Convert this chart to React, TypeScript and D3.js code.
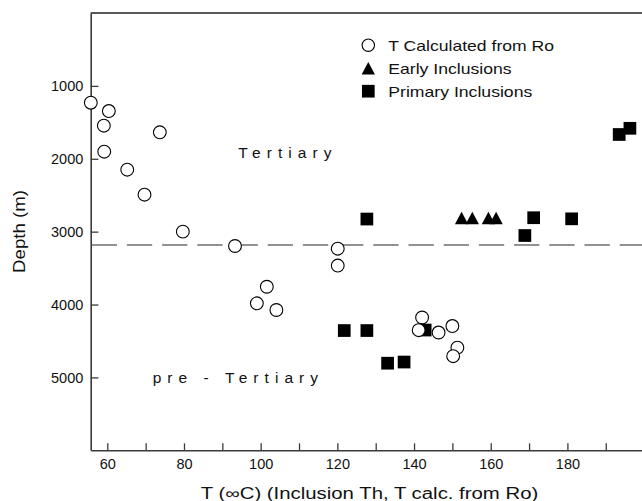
import React, { useEffect, useRef } from "react";
import * as d3 from "d3";

// Temperature calculated from vitrinite reflectance (Ro)
const roTemps = [55.7, 60.4, 59.1, 59.2, 73.7, 65.2, 69.7, 79.7, 93.3, 120.1, 120.1, 101.6, 99.0, 104.1, 142.1, 141.2, 146.4, 150.0, 151.3, 150.2];
const roDepths = [1231, 1345, 1546, 1903, 1637, 2150, 2493, 3000, 3197, 3234, 3465, 3756, 3983, 4075, 4178, 4352, 4384, 4295, 4592, 4709];

// Early fluid inclusions (homogenisation temperature)
const earlyTemps = [152.4, 155.2, 159.4, 161.4];
const earlyDepths = [2813, 2813, 2813, 2813];

// Primary fluid inclusions (homogenisation temperature)
const primaryTemps = [121.8, 127.7, 133.1, 137.4, 142.9, 127.7, 171.2, 168.9, 181.1, 193.5, 196.3];
const primaryDepths = [4357, 4357, 4805, 4789, 4350, 2827, 2809, 3053, 2824, 1667, 1582];

// Tertiary / pre-Tertiary boundary
const boundaryDepth = 3183;

const depthTicks = [1000, 2000, 3000, 4000, 5000];
const tempTicks = [60, 70, 80, 90, 100, 110, 120, 130, 140, 150, 160, 170, 180, 190];
const tempDomain = [55.67, 200];
const depthDomain = [0, 6000];

const legendLabels = ["T Calculated from Ro", "Early Inclusions", "Primary Inclusions"];
const zoneLabels = ["Tertiary", "pre - Tertiary"];
const xTitle = "T (\u221EC) (Inclusion Th, T calc. from Ro)";
const yTitle = "Depth (m)";

const W = 642;
const H = 501;
const FONT = "'Liberation Sans', Arial, Helvetica, sans-serif";
const AXIS = "#3a3a3a";

export default function App() {
  const ref = useRef<SVGSVGElement>(null);

  useEffect(() => {
    const svg = d3.select(ref.current);
    svg.selectAll("*").remove();

    const left = 90.7;
    const right = 644.1;
    const top = 13;
    const bottom = 450.3;

    const x = d3.scaleLinear().domain(tempDomain).range([left, right]);
    const y = d3.scaleLinear().domain(depthDomain).range([top, bottom]);

    const g = svg.append("g").attr("font-family", FONT);

    // top frame line
    g.append("line")
      .attr("x1", left).attr("x2", right)
      .attr("y1", y(depthDomain[0])).attr("y2", y(depthDomain[0]))
      .attr("stroke", "#222").attr("stroke-width", 1.5);

    // axes
    const xAxis = d3.axisBottom(x)
      .tickValues(tempTicks)
      .tickSize(-7)
      .tickSizeOuter(0)
      .tickPadding(8)
      .tickFormat((d: any) => (d % 20 === 0 ? String(d) : ""));
    const xg = g.append("g").attr("transform", `translate(0,${bottom})`).call(xAxis);

    const yAxis = d3.axisLeft(y)
      .tickValues(depthTicks)
      .tickSize(-7.7)
      .tickSizeOuter(0)
      .tickPadding(7.4)
      .tickFormat((d: any) => String(d));
    const yg = g.append("g").attr("transform", `translate(${left},0)`).call(yAxis);

    [xg, yg].forEach((a) => {
      a.attr("font-family", FONT).attr("font-size", 14.5);
      a.select(".domain").attr("stroke", AXIS).attr("stroke-width", 1.6);
      a.selectAll(".tick line").attr("stroke", AXIS).attr("stroke-width", 1.3);
      a.selectAll(".tick text").attr("fill", "#111");
    });

    // boundary line
    g.append("line")
      .attr("x1", left).attr("x2", right)
      .attr("y1", y(boundaryDepth)).attr("y2", y(boundaryDepth))
      .attr("stroke", "#6e6e6e").attr("stroke-width", 1.5)
      .attr("stroke-dasharray", "25.3 9.9")
      .attr("stroke-dashoffset", -1);

    // zone labels
    g.append("text")
      .attr("x", 238.3).attr("y", 158.3)
      .attr("font-size", 15.5).attr("letter-spacing", 6.05).attr("fill", "#111")
      .text(zoneLabels[0]);
    g.append("text")
      .attr("x", 152.7).attr("y", 382.7)
      .attr("font-size", 15.5).attr("letter-spacing", 6.05).attr("fill", "#111")
      .text(zoneLabels[1]);

    // axis titles
    g.append("text")
      .attr("x", 369.5).attr("y", 498.8)
      .attr("text-anchor", "middle")
      .attr("font-size", 16).attr("fill", "#111")
      .attr("textLength", 337.6).attr("lengthAdjust", "spacingAndGlyphs")
      .text(xTitle);
    g.append("text")
      .attr("transform", `translate(25,231.5) rotate(-90)`)
      .attr("text-anchor", "middle")
      .attr("font-size", 16).attr("fill", "#111")
      .attr("textLength", 83).attr("lengthAdjust", "spacingAndGlyphs")
      .text(yTitle);

    const sq = 12.7;
    const triW = 13.3;
    const triH = 12.6;
    const triPath = (cx: number, cy: number) =>
      `M${cx},${cy - triH / 2}L${cx + triW / 2},${cy + triH / 2}L${cx - triW / 2},${cy + triH / 2}Z`;

    // primary inclusions
    g.append("g").selectAll("rect")
      .data(primaryTemps.map((t, i) => ({ t, d: primaryDepths[i] })))
      .join("rect")
      .attr("x", (p) => x(p.t) - sq / 2)
      .attr("y", (p) => y(p.d) - sq / 2)
      .attr("width", sq).attr("height", sq)
      .attr("fill", "#000");

    // early inclusions
    g.append("g").selectAll("path")
      .data(earlyTemps.map((t, i) => ({ t, d: earlyDepths[i] })))
      .join("path")
      .attr("d", (p) => triPath(x(p.t), y(p.d)))
      .attr("fill", "#000");

    // Ro-derived temperatures
    g.append("g").selectAll("circle")
      .data(roTemps.map((t, i) => ({ t, d: roDepths[i] })))
      .join("circle")
      .attr("cx", (p) => x(p.t))
      .attr("cy", (p) => y(p.d))
      .attr("r", 6.4)
      .attr("fill", "#fff").attr("stroke", "#000").attr("stroke-width", 1.1);

    // legend
    const lx = 368.3;
    const tx = 388.3;
    const baselines = [50.7, 73.5, 96.7];
    const widths = [165.7, 123.3, 144];
    const leg = g.append("g");
    leg.append("circle").attr("cx", lx).attr("cy", baselines[0] - 5.5).attr("r", 6.2)
      .attr("fill", "#fff").attr("stroke", "#000").attr("stroke-width", 1.1);
    leg.append("path").attr("d", triPath(lx, baselines[1] - 5.3)).attr("fill", "#000");
    leg.append("rect").attr("x", lx - sq / 2).attr("y", baselines[2] - 5.5 - sq / 2)
      .attr("width", sq).attr("height", sq).attr("fill", "#000");
    legendLabels.forEach((lab, i) => {
      leg.append("text")
        .attr("x", tx).attr("y", baselines[i])
        .attr("font-size", 15).attr("fill", "#111")
        .attr("textLength", widths[i]).attr("lengthAdjust", "spacingAndGlyphs")
        .text(lab);
    });
  }, []);

  return (
    <svg
      ref={ref}
      width={W}
      height={H}
      style={{ position: "absolute", left: 0, top: 0, background: "#fff", display: "block" }}
    />
  );
}
